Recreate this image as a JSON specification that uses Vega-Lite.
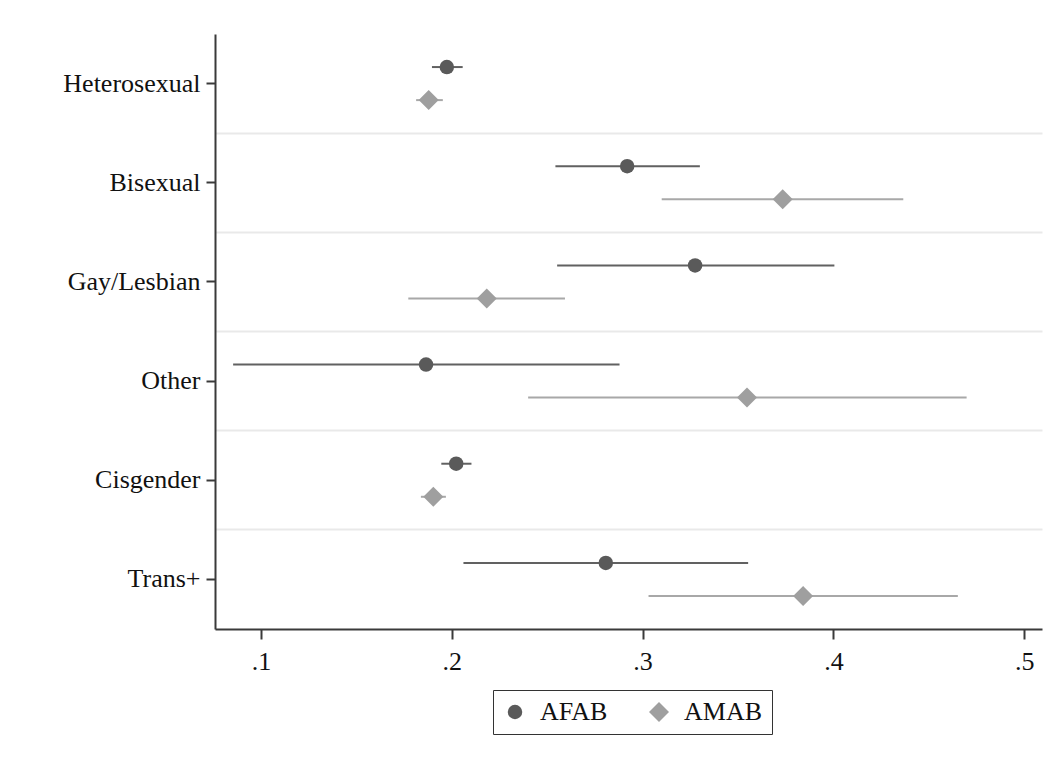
{
  "$schema": "https://vega.github.io/schema/vega-lite/v6.json",
  "autosize": "none",
  "width": 827,
  "height": 595,
  "padding": {"left": 215, "top": 34, "right": 14, "bottom": 140},
  "background": "white",
  "config": {
    "view": {"stroke": null},
    "font": "Liberation Serif"
  },
  "data": {
    "values": [
      {"cat": "Heterosexual", "group": "AFAB", "est": 0.1974, "lo": 0.1896, "hi": 0.2057},
      {"cat": "Heterosexual", "group": "AMAB", "est": 0.1879, "lo": 0.1813, "hi": 0.1953},
      {"cat": "Bisexual", "group": "AFAB", "est": 0.2919, "lo": 0.2543, "hi": 0.3300},
      {"cat": "Bisexual", "group": "AMAB", "est": 0.3734, "lo": 0.3100, "hi": 0.4366},
      {"cat": "Gay/Lesbian", "group": "AFAB", "est": 0.3275, "lo": 0.2552, "hi": 0.4005},
      {"cat": "Gay/Lesbian", "group": "AMAB", "est": 0.2183, "lo": 0.1772, "hi": 0.2593},
      {"cat": "Other", "group": "AFAB", "est": 0.1865, "lo": 0.0854, "hi": 0.2879},
      {"cat": "Other", "group": "AMAB", "est": 0.3547, "lo": 0.2400, "hi": 0.4698},
      {"cat": "Cisgender", "group": "AFAB", "est": 0.2023, "lo": 0.1945, "hi": 0.2103},
      {"cat": "Cisgender", "group": "AMAB", "est": 0.1903, "lo": 0.1838, "hi": 0.1969},
      {"cat": "Trans+", "group": "AFAB", "est": 0.2807, "lo": 0.2061, "hi": 0.3553},
      {"cat": "Trans+", "group": "AMAB", "est": 0.3841, "lo": 0.3031, "hi": 0.4652}
    ]
  },
  "resolve": {"axis": {"y": "independent"}},
  "layer": [
    {
      "transform": [{"filter": "datum.group === 'AFAB'"}],
      "mark": {"type": "rule", "strokeWidth": 2, "color": "#616161"},
      "encoding": {
        "y": {
          "field": "cat", "type": "nominal",
          "sort": ["Heterosexual", "Bisexual", "Gay/Lesbian", "Other", "Cisgender", "Trans+"],
          "scale": {"paddingInner": 0, "paddingOuter": 0},
          "axis": {
            "orient": "right", "title": null, "labels": false, "ticks": false, "domain": false,
            "grid": true, "bandPosition": 0, "gridColor": "#e9e9e9", "gridWidth": 2,
            "gridOpacity": {"condition": {"test": "datum.value === 'Heterosexual'", "value": 0}, "value": 1}
          }
        },
        "yOffset": {"field": "group", "type": "nominal", "scale": {"domain": ["AFAB", "AMAB"], "paddingOuter": 0.5, "paddingInner": 0}},
        "x": {
          "field": "lo", "type": "quantitative",
          "scale": {"domain": [0.0759, 0.5093], "nice": false, "zero": false},
          "axis": {
            "title": null, "values": [0.1, 0.2, 0.3, 0.4, 0.5], "format": ".1f",
            "labelExpr": "replace(datum.label, '0.', '.')",
            "grid": false, "domainColor": "#3a3a3a", "domainWidth": 2,
            "tickColor": "#3a3a3a", "tickWidth": 2, "tickSize": 10,
            "labelFont": "Liberation Serif", "labelFontSize": 26, "labelColor": "#111", "labelPadding": 9
          }
        },
        "x2": {"field": "hi"}
      }
    },
    {
      "transform": [{"filter": "datum.group === 'AMAB'"}],
      "mark": {"type": "rule", "strokeWidth": 2, "color": "#a8a8a8"},
      "encoding": {
        "y": {
          "field": "cat", "type": "nominal",
          "sort": ["Heterosexual", "Bisexual", "Gay/Lesbian", "Other", "Cisgender", "Trans+"],
          "axis": null
        },
        "yOffset": {"field": "group", "type": "nominal"},
        "x": {"field": "lo", "type": "quantitative"},
        "x2": {"field": "hi"}
      }
    },
    {
      "mark": {"type": "point", "filled": true, "opacity": 1},
      "encoding": {
        "y": {
          "field": "cat", "type": "nominal",
          "sort": ["Heterosexual", "Bisexual", "Gay/Lesbian", "Other", "Cisgender", "Trans+"],
          "axis": {
            "orient": "left", "title": null, "grid": false,
            "domainColor": "#3a3a3a", "domainWidth": 2,
            "tickColor": "#3a3a3a", "tickWidth": 2, "tickSize": 9,
            "labelFont": "Liberation Serif", "labelFontSize": 26, "labelColor": "#111", "labelPadding": 6
          }
        },
        "yOffset": {"field": "group", "type": "nominal"},
        "x": {"field": "est", "type": "quantitative"},
        "color": {
          "field": "group", "type": "nominal",
          "scale": {"domain": ["AFAB", "AMAB"], "range": ["#5a5a5a", "#9f9f9f"]},
          "legend": {
            "title": null, "orient": "none", "direction": "horizontal",
            "legendX": 278, "legendY": 656,
            "strokeColor": "#333", "fillColor": "white",
            "padding": 9, "labelFont": "Liberation Serif", "labelFontSize": 26, "labelColor": "#111",
            "columnPadding": 38, "labelOffset": 12,
            "encode": {"legend": {"update": {"strokeWidth": {"value": 2}}}}
          }
        },
        "shape": {
          "field": "group", "type": "nominal",
          "scale": {"domain": ["AFAB", "AMAB"], "range": ["circle", "diamond"]}
        },
        "size": {
          "field": "group", "type": "nominal",
          "scale": {"domain": ["AFAB", "AMAB"], "range": [210, 400]}
        }
      }
    }
  ]
}
